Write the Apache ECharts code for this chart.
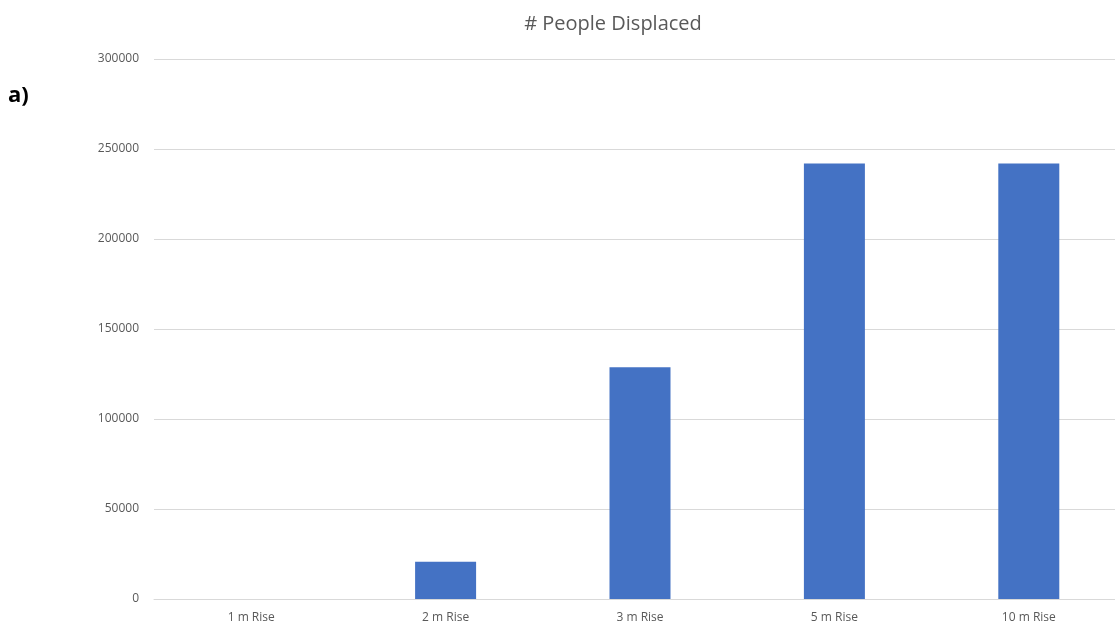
<!DOCTYPE html>
<html><head><meta charset="utf-8">
<script src="https://cdn.jsdelivr.net/npm/echarts@6/dist/echarts.min.js"></script>
<style>html,body{margin:0;padding:0;background:#fff;overflow:hidden}#c{width:1126px;height:624px}</style>
</head><body><div id="c"></div>
<script>
const categories = ['1 m Rise','2 m Rise','3 m Rise','5 m Rise','10 m Rise'];
const displaced = [0, 20700, 128700, 242000, 242000];
const yTicks = [0, 50000, 100000, 150000, 200000, 250000, 300000];

const chart = echarts.init(document.getElementById('c'));
chart.setOption({
  animation: false,
  textStyle: {fontFamily: 'Open Sans'},
  title: [{
    text: '# People Displaced', left: 613, top: 14, textAlign: 'center', padding: 0,
    textStyle: {fontSize: 20, fontWeight: 'normal', color: '#595959', fontFamily: 'Open Sans'}
  }, {
    text: 'a)', left: 8, top: 85, padding: 0,
    textStyle: {fontSize: 22, fontWeight: 'bold', color: '#000', fontFamily: 'Open Sans'}
  }],
  grid: {left: 154, top: 59, right: 0, bottom: 25, containLabel: false},
  xAxis: {
    type: 'category', data: categories,
    axisLine: {lineStyle: {color: '#d9d9d9'}},
    axisTick: {show: false},
    axisLabel: {color: '#595959', fontSize: 12, margin: 13}
  },
  yAxis: {
    type: 'value', min: yTicks[0], max: yTicks[yTicks.length-1], interval: 50000,
    axisLine: {show: false}, axisTick: {show: false},
    axisLabel: {color: '#595959', fontSize: 12, margin: 15, formatter: v => String(v)},
    splitLine: {lineStyle: {color: '#d9d9d9'}}
  },
  series: [{
    type: 'bar', data: displaced, barWidth: 61,
    itemStyle: {color: '#4472c4'}
  }]
});
</script></body></html>
